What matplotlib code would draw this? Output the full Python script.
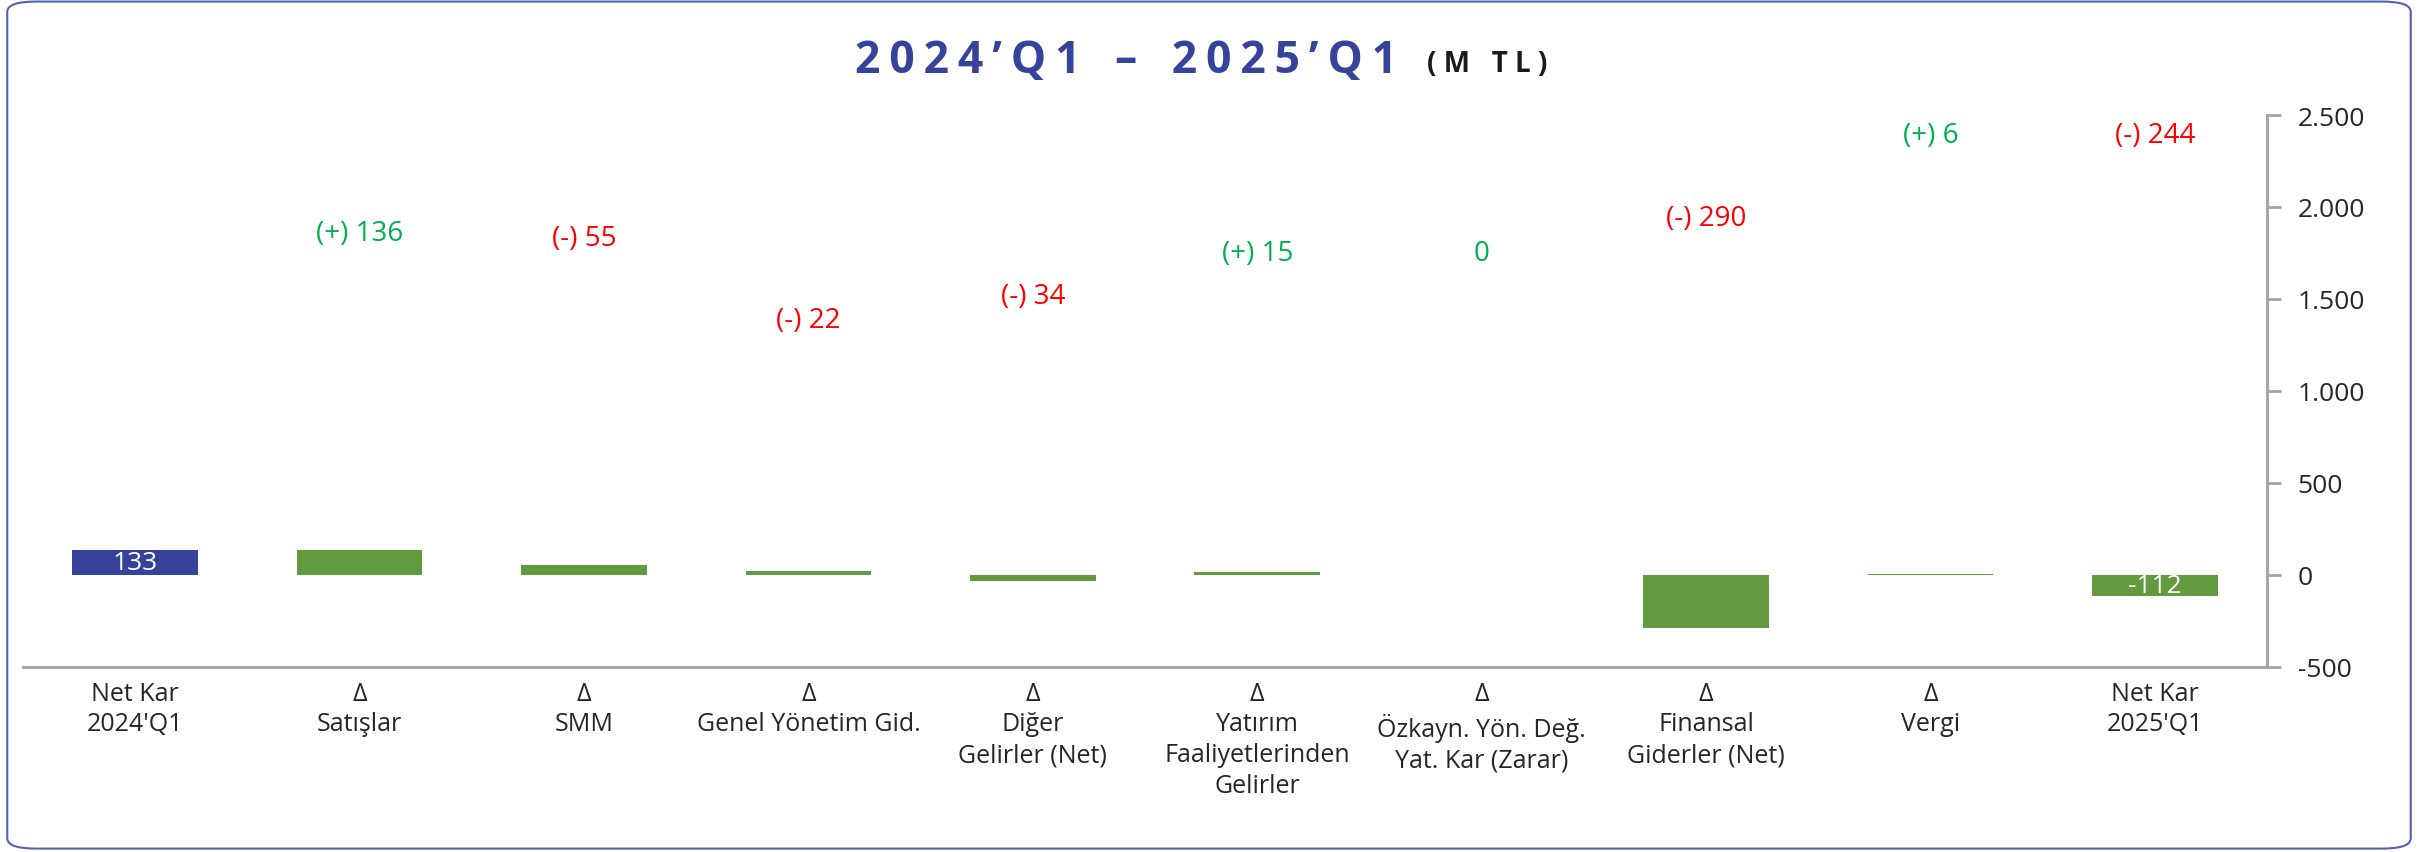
import numpy as np
import matplotlib
matplotlib.use("Agg")
import matplotlib.pyplot as plt
from matplotlib.patches import FancyBboxPatch

plt.rcParams['font.family'] = ['Open Sans', 'DejaVu Sans']

# DATA
categories = ["Net Kar\n2024'Q1", "Δ\nSatışlar", "Δ\nSMM", "Δ\nGenel Yönetim Gid.",
              "Δ\nDiğer\nGelirler (Net)", "Δ\nYatırım\nFaaliyetlerinden\nGelirler",
              "Δ\nÖzkayn. Yön. Değ.\nYat. Kar (Zarar)", "Δ\nFinansal\nGiderler (Net)",
              "Δ\nVergi", "Net Kar\n2025'Q1"]
bar_vals = [133, 136, 55, 22, -34, 15, 0, -290, 6, -112]
change_text = ["", "(+) 136", "(-) 55", "(-) 22", "(-) 34", "(+) 15", "0", "(-) 290", "(+) 6", "(-) 244"]
change_sign = [0, 1, -1, -1, -1, 1, 1, -1, 1, -1]
label_y = [None, 1858, 1833, 1383, 1517, 1750, 1750, 1942, 2392, 2392]
inner_labels = {0: "133", 9: "-112"}

blue = "#35449A"
green = "#629A3E"
pos_col = "#00B050"
neg_col = "#FF0000"

fig = plt.figure(figsize=(24.18, 8.53), dpi=100)
ax = fig.add_axes([0.0095, 0.217, 0.9281, 0.647])

x = np.arange(len(categories))
cols = [blue] + [green] * (len(categories) - 1)
ax.bar(x, bar_vals, width=0.56, color=cols, zorder=2)

for i, t in inner_labels.items():
    ax.text(i, bar_vals[i] / 2, t, ha='center', va='center', color='white', fontsize=19)

for i in range(len(categories)):
    if label_y[i] is None:
        continue
    c = pos_col if change_sign[i] > 0 else neg_col
    ax.text(i, label_y[i], change_text[i], ha='center', va='center', color=c, fontsize=20)

ax.set_xlim(-0.5, len(categories) - 0.5)
ax.set_ylim(-500, 2500)
ax.set_yticks(np.arange(-500, 2501, 500))
ax.yaxis.set_major_formatter(matplotlib.ticker.FuncFormatter(lambda v, p: f"{int(v):,}".replace(",", ".")))
ax.yaxis.tick_right()
ax.set_xticks(x)
ax.set_xticklabels(categories, fontsize=18, linespacing=1.3, color="#262626")
ax.tick_params(axis='x', length=0, pad=10)
ax.tick_params(axis='y', direction='out', length=10, width=2, color="#A6A6A6",
               labelsize=19, pad=12, labelcolor="#262626")
for s in ['top', 'left']:
    ax.spines[s].set_visible(False)
for s in ['right', 'bottom']:
    ax.spines[s].set_color("#A6A6A6")
    ax.spines[s].set_linewidth(2.2)

# title
fig.text(0.578, 0.928, "2\u20090\u20092\u20094\u2009’\u2009Q\u20091   –   2\u20090\u20092\u20095\u2009’\u2009Q\u20091",
         ha='right', va='center', fontsize=32, fontweight='bold', color=blue)
fig.text(0.590, 0.924, "( M   T L )", ha='left', va='center', fontsize=20,
         fontweight='bold', color="#1a1a1a")

# border
border = FancyBboxPatch((0.003, 0.004), 0.994, 0.993, boxstyle="round,pad=0,rounding_size=0.012",
                        transform=fig.transFigure, fill=False, edgecolor="#5561AE", linewidth=1.5)
fig.patches.append(border)

fig.savefig("out.png", dpi=100)
